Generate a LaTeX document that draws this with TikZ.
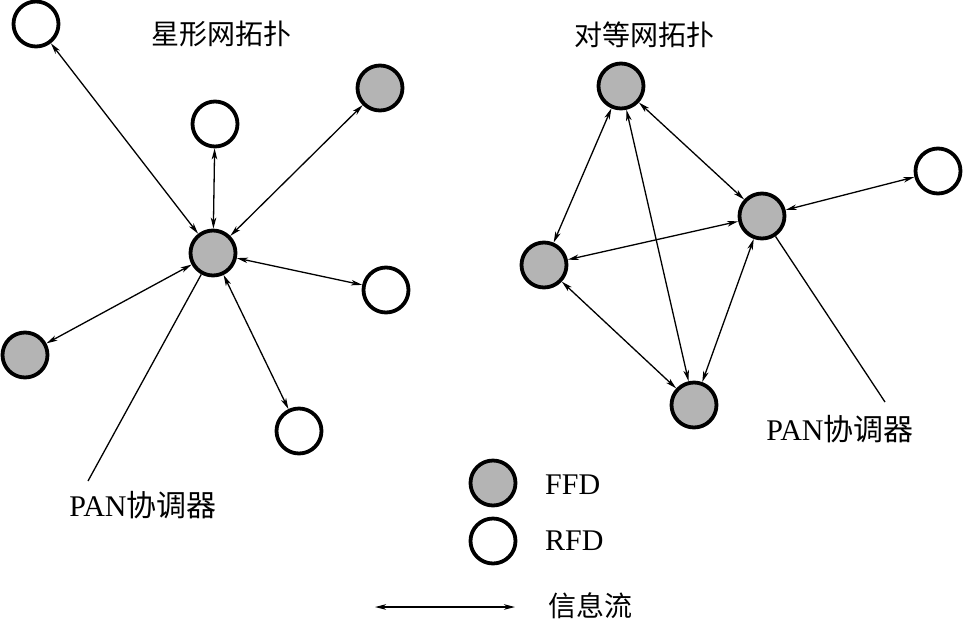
\documentclass[tikz,border=0pt]{standalone}
\usepackage{fontspec}
\setmainfont{Liberation Serif}
\newfontfamily\cjk{Noto Sans CJK SC}
\usetikzlibrary{arrows.meta}
\definecolor{ffdgray}{RGB}{180,180,180}
\begin{document}
\begin{tikzpicture}[x=1pt,y=-1pt,
  dev/.style={circle,draw=black,line width=3.8pt,minimum size=45pt,inner sep=0pt},
  ffd/.style={dev,fill=ffdgray},
  rfd/.style={dev,fill=white},
  link/.style={line width=1.3pt,{Stealth[length=11pt,width=5.5pt,inset=3pt]}-{Stealth[length=11pt,width=5.5pt,inset=3pt]}},
  lead/.style={line width=1.3pt},
  title/.style={font=\fontsize{28}{32}\selectfont\cjk,inner sep=0pt},
  lbl/.style={font=\fontsize{30}{34}\selectfont,inner sep=0pt}]
\useasboundingbox (0,0) rectangle (964,622);

% ---- star topology ----
\node[title] (t1) at (221,34) {星形网拓扑};
\node[ffd] (sc) at (213,253) {};
\node[rfd] (s1) at (36,24) {};
\node[rfd] (s2) at (215,124) {};
\node[ffd] (s3) at (380,88) {};
\node[rfd] (s4) at (386,290) {};
\node[ffd] (s5) at (25,355) {};
\node[rfd] (s6) at (299,431) {};
\foreach \n in {s1,s2,s3,s4,s5,s6} \draw[link] (sc) -- (\n);
\coordinate (sl) at (88,481);
\draw[lead] (sc) -- (sl);
\node[lbl] (sp) at (143,505) {PAN{\cjk 协调器}};

% ---- peer topology ----
\node[title] (t2) at (644,35) {对等网拓扑};
\node[ffd] (pt) at (621,86) {};
\node[ffd] (pc) at (762,216) {};
\node[rfd] (pw) at (938,171) {};
\node[ffd] (pl) at (544,265) {};
\node[ffd] (pb) at (694,405) {};
\draw[link] (pt) -- (pl);
\draw[link] (pt) -- (pc);
\draw[link] (pt) -- (pb);
\draw[link] (pl) -- (pc);
\draw[link] (pl) -- (pb);
\draw[link] (pc) -- (pb);
\draw[link] (pc) -- (pw);
\coordinate (pcl) at (885,402);
\draw[lead] (pc) -- (pcl);
\node[lbl] (pp) at (840,429) {PAN{\cjk 协调器}};

% ---- legend ----
\node[ffd] (lf) at (493,483) {};
\node[lbl,anchor=west] (lft) at (545,485) {FFD};
\node[rfd] (lr) at (493,541) {};
\node[lbl,anchor=west] (lrt) at (545,541) {RFD};
\coordinate (la) at (375,607);
\coordinate (lb) at (515,607);
\draw[link] (la) -- (lb);
\node[title] (li) at (590,606) {信息流};
\end{tikzpicture}
\end{document}
